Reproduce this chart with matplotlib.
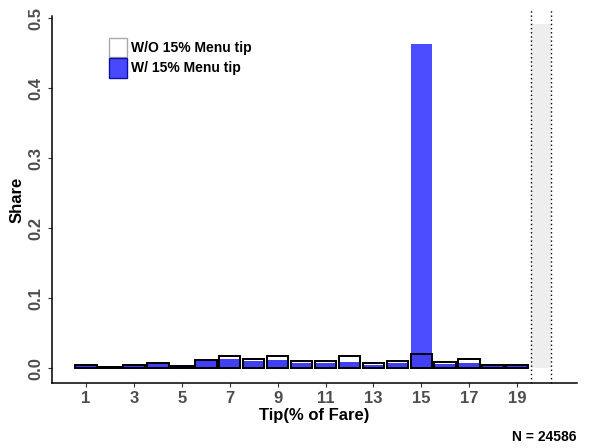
import matplotlib
matplotlib.use("Agg")
import matplotlib.pyplot as plt
import numpy as np
from matplotlib.patches import Patch

# ---------------------------------------------------------------
# data
# ---------------------------------------------------------------
tips = list(range(1, 20))
share_wo = [0.005, 0.002, 0.004, 0.007, 0.003, 0.012, 0.017, 0.013, 0.018, 0.011,
            0.011, 0.017, 0.008, 0.010, 0.020, 0.0085, 0.013, 0.004, 0.004]
share_w = [0.004, 0.002, 0.004, 0.007, 0.003, 0.012, 0.013, 0.011, 0.012, 0.008,
           0.008, 0.009, 0.005, 0.007, 0.463, 0.006, 0.0075, 0.004, 0.004]
default_pos = 20
default_share = 0.492
xtick_vals = [1, 3, 5, 7, 9, 11, 13, 15, 17, 19]
ytick_vals = [0.0, 0.1, 0.2, 0.3, 0.4, 0.5]
n_obs = 24586

plt.rcParams['font.family'] = ['Liberation Sans', 'DejaVu Sans']
plt.rcParams['font.weight'] = 'bold'

fig = plt.figure(figsize=(5.89, 4.48), dpi=100)
ax = fig.add_axes([52/589, 65/448, 525/589, 367/448])

BLUE = '#0000FF'
W = 0.9

# grey reference bar with dotted edges
ax.bar(default_pos, default_share, width=0.85, color='#EEEEEE', lw=0, zorder=1)
ax.vlines([default_pos - 0.43, default_pos + 0.43], -0.021, 0.515, colors='black',
          linestyles=(0, (1, 2)), lw=1, clip_on=False, zorder=1)

# W/O bars (white, black outline), then W/ bars (blue, transparent)
ax.bar(tips, share_wo, width=W, color='white', edgecolor='black', lw=1.3, zorder=2)
ax.bar(tips, share_w, width=W, color=BLUE, alpha=0.7, lw=0, zorder=3)
ax.bar(tips, np.minimum(share_wo, share_w), width=W, color='#0000AA', alpha=0.15, lw=0, zorder=4)
ax.bar(tips, share_wo, width=W, fill=False, edgecolor='black', lw=1.3, zorder=5)

ax.set_xlim(-0.42, 21.5)
ax.set_ylim(-0.021, 0.503)
ax.set_xticks(xtick_vals)
ax.set_yticks(ytick_vals)
ax.set_yticklabels([f"{v:.1f}" for v in ytick_vals], rotation=90, va='center')
ax.tick_params(axis='both', labelsize=12, labelcolor='#4D4D4D', length=3, width=0.8,
               color='#333333', pad=3)
for lab in ax.get_xticklabels() + ax.get_yticklabels():
    lab.set_fontweight('bold')

for s in ['top', 'right']:
    ax.spines[s].set_visible(False)
for s in ['left', 'bottom']:
    ax.spines[s].set_linewidth(1.1)
    ax.spines[s].set_color('black')

ax.set_xlabel('Tip(% of Fare)', fontsize=12, fontweight='bold', labelpad=1)
ax.set_ylabel('Share', fontsize=12, fontweight='bold', labelpad=3)

handles = [Patch(facecolor='white', edgecolor='#AAAAAA', lw=1),
           Patch(facecolor='#4848FF', edgecolor='#1010A0', lw=1)]
ax.legend(handles, ['W/O 15% Menu tip', 'W/ 15% Menu tip'], loc='upper left',
          bbox_to_anchor=(0.095, 0.96), frameon=False,
          handlelength=1.3, handleheight=1.8, handletextpad=0.3,
          labelspacing=0.05, borderpad=0, prop={'weight': 'bold', 'size': 10})

fig.text(577/589, 1 - 437/448, f"N = {n_obs}", ha='right', va='center',
         fontsize=10, fontweight='bold')

fig.savefig('out.png', dpi=100)
